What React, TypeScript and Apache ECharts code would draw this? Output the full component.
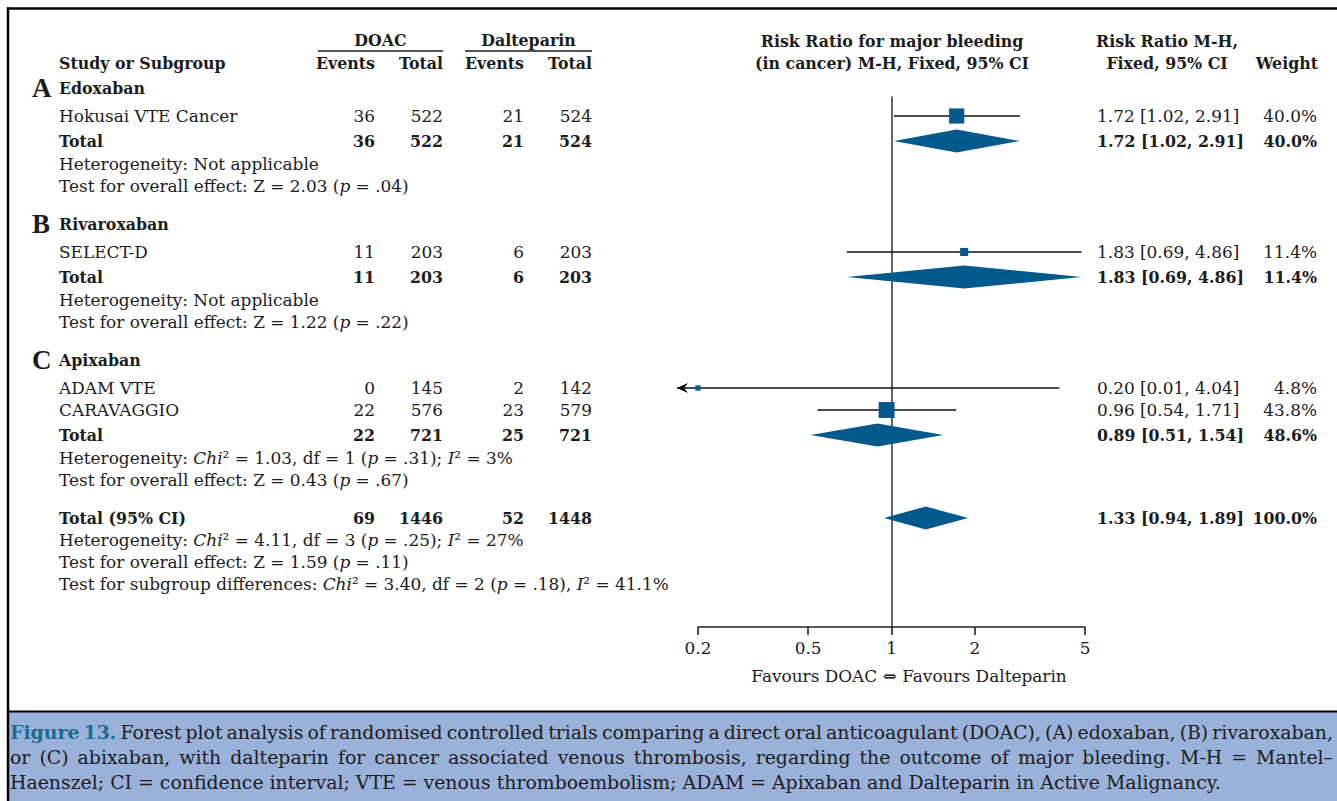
import React, { useEffect, useRef } from "react";
import * as echarts from "echarts";

// ---------------- data ----------------
const sectionLetters = ["A", "B", "C"];
const sectionNames = ["Edoxaban", "Rivaroxaban", "Apixaban"];

const studyNames = ["Hokusai VTE Cancer", "SELECT-D", "ADAM VTE", "CARAVAGGIO"];
const studySection = [0, 1, 2, 2];
const studyDoacEvents = [36, 11, 0, 22];
const studyDoacTotal = [522, 203, 145, 576];
const studyDaltEvents = [21, 6, 2, 23];
const studyDaltTotal = [524, 203, 142, 579];
const studyRR = [1.72, 1.83, 0.2, 0.96];
const studyLow = [1.02, 0.69, 0.01, 0.54];
const studyHigh = [2.91, 4.86, 4.04, 1.71];
const studyWeight = [40.0, 11.4, 4.8, 43.8];

const subDoacEvents = [36, 11, 22];
const subDoacTotal = [522, 203, 721];
const subDaltEvents = [21, 6, 25];
const subDaltTotal = [524, 203, 721];
const subRR = [1.72, 1.83, 0.89];
const subLow = [1.02, 0.69, 0.51];
const subHigh = [2.91, 4.86, 1.54];
const subWeight = [40.0, 11.4, 48.6];
const subHeterogeneity = [
  "Not applicable",
  "Not applicable",
  "{i|Chi}² = 1.03, df = 1 ({i|p} = .31); {i|I}² = 3%",
];
const subZ = ["2.03", "1.22", "0.43"];
const subP = [".04", ".22", ".67"];

const overallCounts = [69, 1446, 52, 1448];
const overallEstimate = [1.33, 0.94, 1.89];
const overallWeight = 100.0;
const overallHeterogeneity = "{i|Chi}² = 4.11, df = 3 ({i|p} = .25); {i|I}² = 27%";
const overallZ = "1.59";
const overallP = ".11";
const subgroupDifferences = "{i|Chi}² = 3.40, df = 2 ({i|p} = .18), {i|I}² = 41.1%";

const xTicks = [0.2, 0.5, 1, 2, 5];
const axisCaption = "Favours DOAC ⇔ Favours Dalteparin";

const captionLines = [
  "Figure 13. Forest plot analysis of randomised controlled trials comparing a direct oral anticoagulant (DOAC), (A) edoxaban, (B) rivaroxaban,",
  "or (C) abixaban, with dalteparin for cancer associated venous thrombosis, regarding the outcome of major bleeding. M-H = Mantel–",
  "Haenszel; CI = confidence interval; VTE = venous thromboembolism; ADAM = Apixaban and Dalteparin in Active Malignancy.",
];

// ---------------- layout / style ----------------
const W = 1337;
const H = 801;
const FAMILY = '"DejaVu Serif", serif';
const LETTER_FAMILY = '"Liberation Serif", "DejaVu Serif", serif';
const INK = "#1c1c1c";
const MARK = "#02598b";
const CAPTION_BG = "#9ab1d9";
const FIG_BLUE = "#1b6b94";
const GRID_TOP = 97;
const GRID_BOTTOM = 627;
const X_LEFT = 698;
const X_RIGHT = 1085;
const COL_NAME = 59;
const COL_DE = 375;
const COL_DT = 443;
const COL_LE = 524;
const COL_LT = 592;
const COL_RR = 1097;
const COL_W = 1317;
const BOLD_SCALE = 0.935;

let ctx: CanvasRenderingContext2D | null = null;
function measure(text: string, size: number, weight = "normal") {
  if (!ctx) ctx = document.createElement("canvas").getContext("2d");
  if (!ctx) return text.length * size * 0.55;
  ctx.font = `${weight} ${size}px "DejaVu Serif"`;
  return ctx.measureText(text).width;
}

function fmtRR(rr: number, lo: number, hi: number) {
  return `${rr.toFixed(2)} [${lo.toFixed(2)}, ${hi.toFixed(2)}]`;
}

function buildOption() {
  const plainSub = "Test for subgroup differences: Chi² = 3.40, df = 2 (p = .18), I² = 41.1%";
  let fs = (15 * 610) / measure(plainSub, 15);
  fs = Math.max(13, Math.min(17, fs));

  const graphics: any[] = [];
  const text = (
    x: number,
    y: number,
    str: string,
    opt: {
      bold?: boolean;
      align?: string;
      size?: number;
      fill?: string;
      rich?: boolean;
      family?: string;
    } = {}
  ) => {
    const size = opt.size ?? (opt.bold ? fs * BOLD_SCALE : fs);
    const style: any = {
      text: str,
      fontSize: size,
      fontFamily: opt.family ?? FAMILY,
      fontWeight: opt.bold ? "bold" : "normal",
      fill: opt.fill ?? INK,
      align: opt.align ?? "left",
      verticalAlign: "middle",
    };
    if (opt.rich) {
      style.rich = {
        i: { fontStyle: "italic", fontSize: size, fontFamily: FAMILY, fill: opt.fill ?? INK },
      };
    }
    graphics.push({ type: "text", x, y, silent: true, style });
  };
  const hline = (x1: number, x2: number, y: number, w: number, c = INK) =>
    graphics.push({
      type: "line",
      silent: true,
      shape: { x1, y1: y, x2, y2: y },
      style: { stroke: c, lineWidth: w },
    });

  // frame & caption box
  graphics.push({
    type: "rect",
    silent: true,
    shape: { x: 8, y: 712, width: W - 8, height: H - 712 },
    style: { fill: CAPTION_BG },
  });
  hline(7, W, 8.5, 2.5, "#000");
  hline(7, W, 711.5, 2, "#000");
  graphics.push({
    type: "line",
    silent: true,
    shape: { x1: 8, y1: 7.5, x2: 8, y2: H },
    style: { stroke: "#000", lineWidth: 2.5 },
  });

  // headers
  text((318 + 443) / 2, 40, "DOAC", { bold: true, align: "center" });
  text((465 + 592) / 2, 40, "Dalteparin", { bold: true, align: "center" });
  hline(318, 443, 51, 1.5);
  hline(465, 592, 51, 1.5);
  text(COL_NAME, 63, "Study or Subgroup", { bold: true });
  text(COL_DE, 63, "Events", { bold: true, align: "right" });
  text(COL_DT, 63, "Total", { bold: true, align: "right" });
  text(COL_LE, 63, "Events", { bold: true, align: "right" });
  text(COL_LT, 63, "Total", { bold: true, align: "right" });
  text(892, 41, "Risk Ratio for major bleeding", { bold: true, align: "center" });
  text(892, 63, "(in cancer) M-H, Fixed, 95% CI", { bold: true, align: "center" });
  text(1167, 41, "Risk Ratio M-H,", { bold: true, align: "center" });
  text(1167, 63, "Fixed, 95% CI", { bold: true, align: "center" });
  text(1318, 63, "Weight", { bold: true, align: "right" });

  // rows
  const studyData: any[] = [];
  const diamondData: any[] = [];
  let y = 88;
  for (let s = 0; s < sectionNames.length; s++) {
    text(32, y, sectionLetters[s], { bold: true, size: 27, family: LETTER_FAMILY });
    text(COL_NAME, y, sectionNames[s], { bold: true });
    let sy = y + 28;
    let lastY = sy;
    studyNames.forEach((name, k) => {
      if (studySection[k] !== s) return;
      text(COL_NAME, sy, name);
      text(COL_DE, sy, String(studyDoacEvents[k]), { align: "right" });
      text(COL_DT, sy, String(studyDoacTotal[k]), { align: "right" });
      text(COL_LE, sy, String(studyDaltEvents[k]), { align: "right" });
      text(COL_LT, sy, String(studyDaltTotal[k]), { align: "right" });
      text(COL_RR, sy, fmtRR(studyRR[k], studyLow[k], studyHigh[k]));
      text(COL_W, sy, `${studyWeight[k].toFixed(1)}%`, { align: "right" });
      studyData.push([studyRR[k], studyLow[k], studyHigh[k], sy, studyWeight[k]]);
      lastY = sy;
      sy += 22;
    });
    const ty = lastY + 25;
    text(COL_NAME, ty, "Total", { bold: true });
    text(COL_DE, ty, String(subDoacEvents[s]), { bold: true, align: "right" });
    text(COL_DT, ty, String(subDoacTotal[s]), { bold: true, align: "right" });
    text(COL_LE, ty, String(subDaltEvents[s]), { bold: true, align: "right" });
    text(COL_LT, ty, String(subDaltTotal[s]), { bold: true, align: "right" });
    text(COL_RR, ty, fmtRR(subRR[s], subLow[s], subHigh[s]), { bold: true });
    text(COL_W, ty, `${subWeight[s].toFixed(1)}%`, { bold: true, align: "right" });
    diamondData.push([subRR[s], subLow[s], subHigh[s], ty]);
    const hy = ty + 23;
    text(COL_NAME, hy, `Heterogeneity: ${subHeterogeneity[s]}`, { rich: true });
    const zy = hy + 22;
    text(COL_NAME, zy, `Test for overall effect: Z = ${subZ[s]} ({i|p} = ${subP[s]})`, { rich: true });
    y = zy + 38;
  }
  // overall
  text(COL_NAME, y, "Total (95% CI)", { bold: true });
  [COL_DE, COL_DT, COL_LE, COL_LT].forEach((cx, i) =>
    text(cx, y, String(overallCounts[i]), { bold: true, align: "right" })
  );
  text(COL_RR, y, fmtRR(overallEstimate[0], overallEstimate[1], overallEstimate[2]), { bold: true });
  text(COL_W, y, `${overallWeight.toFixed(1)}%`, { bold: true, align: "right" });
  diamondData.push([overallEstimate[0], overallEstimate[1], overallEstimate[2], y]);
  text(COL_NAME, y + 22, `Heterogeneity: ${overallHeterogeneity}`, { rich: true });
  text(COL_NAME, y + 44, `Test for overall effect: Z = ${overallZ} ({i|p} = ${overallP})`, { rich: true });
  text(COL_NAME, y + 66, `Test for subgroup differences: ${subgroupDifferences}`, { rich: true });

  // axis caption
  text(909, 676, axisCaption, { align: "center" });

  // figure caption (justified)
  const capL3 = captionLines[2];
  let cs = (18 * 1211) / measure(capL3, 18);
  cs = Math.max(14, Math.min(22, cs));
  const capX0 = 10;
  const capX1 = 1333;
  const capYs = [732, 757, 782];
  captionLines.forEach((line, li) => {
    const words = line.split(" ");
    const styled = words.map((w, wi) => ({ w, bold: li === 0 && wi < 2 }));
    const widths = styled.map((o) => measure(o.w, cs, o.bold ? "bold" : "normal"));
    const total = widths.reduce((a, b) => a + b, 0);
    const space = measure(" ", cs);
    const justify = li < captionLines.length - 1;
    const gap = justify ? (capX1 - capX0 - total) / (words.length - 1) : space;
    let x = capX0;
    styled.forEach((o, wi) => {
      text(x, capYs[li], o.w, {
        size: cs,
        bold: o.bold,
        fill: o.bold ? FIG_BLUE : INK,
      });
      x += widths[wi] + gap;
    });
  });

  const xMinV = Math.log10(xTicks[0]);
  const xMaxV = Math.log10(xTicks[xTicks.length - 1]);
  const tickVals = xTicks.map((v) => Math.log10(v));

  return {
    animation: false,
    textStyle: { fontFamily: FAMILY },
    grid: {
      left: X_LEFT,
      right: W - X_RIGHT,
      top: GRID_TOP,
      bottom: H - GRID_BOTTOM,
      containLabel: false,
    },
    xAxis: {
      type: "value",
      min: xMinV,
      max: xMaxV,
      axisLine: { onZero: false, lineStyle: { color: "#222", width: 1.6 } },
      axisTick: { show: true, length: 8, customValues: tickVals, lineStyle: { color: "#222", width: 1.6 } },
      axisLabel: {
        customValues: tickVals,
        margin: 12,
        color: INK,
        fontFamily: FAMILY,
        fontSize: fs,
        formatter: (v: number) => String(parseFloat(Math.pow(10, v).toPrecision(3))),
      },
      splitLine: { show: false },
    },
    yAxis: {
      type: "value",
      inverse: true,
      min: GRID_TOP,
      max: GRID_BOTTOM,
      axisLine: { show: true, onZero: true, lineStyle: { color: "#333", width: 1.5 } },
      axisTick: { show: false },
      axisLabel: { show: false },
      splitLine: { show: false },
    },
    series: [
      {
        type: "custom",
        name: "studies",
        clip: false,
        silent: true,
        data: studyData,
        renderItem: (params: any, api: any) => {
          const rr = api.value(0);
          const lo = api.value(1);
          const hi = api.value(2);
          const yv = api.value(3);
          const w = api.value(4);
          const lx = Math.log10(lo);
          const hx = Math.log10(hi);
          const pL = api.coord([Math.max(lx, xMinV), yv]);
          const pH = api.coord([Math.min(hx, xMaxV), yv]);
          const pM = api.coord([Math.log10(rr), yv]);
          const py = pM[1];
          const children: any[] = [];
          let x1 = pL[0];
          let x2 = pH[0];
          if (lx < xMinV) {
            x1 -= 21;
            children.push({
              type: "polygon",
              shape: { points: [[x1, py], [x1 + 11, py - 5], [x1 + 7, py], [x1 + 11, py + 5]] },
              style: { fill: "#000" },
            });
          }
          if (hx > xMaxV) {
            x2 += 21;
            children.push({
              type: "polygon",
              shape: { points: [[x2, py], [x2 - 11, py - 5], [x2 - 7, py], [x2 - 11, py + 5]] },
              style: { fill: "#000" },
            });
          }
          children.push({
            type: "line",
            shape: { x1, y1: py, x2, y2: py },
            style: { stroke: "#111", lineWidth: 1.4 },
          });
          const s = 2.4 * Math.sqrt(w);
          children.push({
            type: "rect",
            shape: { x: pM[0] - s / 2, y: py - s / 2, width: s, height: s },
            style: { fill: MARK },
          });
          return { type: "group", children };
        },
      },
      {
        type: "custom",
        name: "pooled",
        clip: false,
        silent: true,
        data: diamondData,
        renderItem: (params: any, api: any) => {
          const yv = api.value(3);
          const pM = api.coord([Math.log10(api.value(0)), yv]);
          const pL = api.coord([Math.log10(api.value(1)), yv]);
          const pH = api.coord([Math.log10(api.value(2)), yv]);
          const h = 11.5;
          return {
            type: "polygon",
            shape: {
              points: [
                [pL[0], pM[1]],
                [pM[0], pM[1] - h],
                [pH[0], pM[1]],
                [pM[0], pM[1] + h],
              ],
            },
            style: { fill: MARK },
          };
        },
      },
    ],
    graphic: graphics,
  };
}

export default function App() {
  const ref = useRef<HTMLDivElement>(null);
  useEffect(() => {
    document.body.style.margin = "0";
    const el = ref.current;
    if (!el) return;
    const chart = echarts.init(el, null, { renderer: "svg" });
    chart.setOption(buildOption() as any);
    return () => chart.dispose();
  }, []);
  return <div ref={ref} style={{ width: W, height: H, background: "#fff" }} />;
}
